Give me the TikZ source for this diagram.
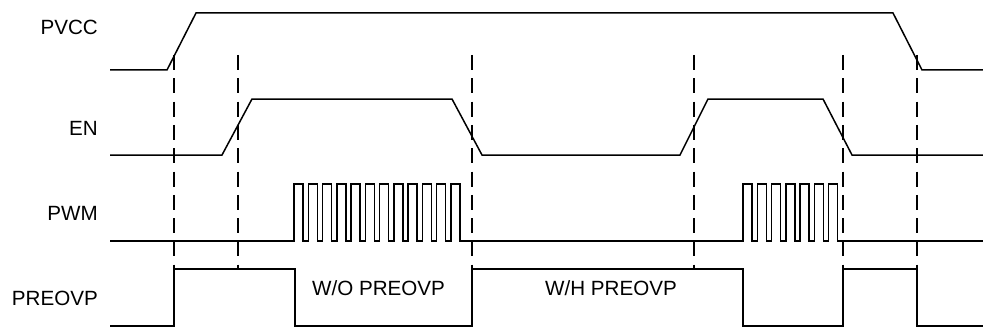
\documentclass[tikz,border=0pt]{standalone}
\usepackage{fontspec}
\setmainfont{Liberation Sans}
\begin{document}
\begin{tikzpicture}[x=1pt,y=-1pt,
  sig/.style={line width=1.5pt, line join=miter},
  guide/.style={line width=2.8pt, dash pattern=on 15pt off 8.3pt},
  lbl/.style={font=\fontsize{20.6}{24}\selectfont, inner sep=0pt}]
\useasboundingbox (0,0) rectangle (983,329);
% labels
\node[lbl, anchor=base east] (lpvcc) at (98,35) {PVCC};
\node[lbl, anchor=base east] (len) at (98,135) {EN};
\node[lbl, anchor=base east] (lpwm) at (98,220) {PWM};
\node[lbl, anchor=base east] (lpre) at (98,305) {PREOVP};
\node[lbl, anchor=base west] (lwo) at (312,295) {W/O PREOVP};
\node[lbl, anchor=base west] (lwh) at (545,295) {W/H PREOVP};
% PVCC
\draw[sig] (110,70) -- (167,70) -- (196,13) -- (893,13) -- (922,70) -- (983,70);
% EN
\draw[sig] (110,155) -- (222,155) -- (252,99) -- (452,99) -- (482,155) -- (680,155)
  -- (708,99) -- (823,99) -- (852,155) -- (983,155);
% PWM
\draw[sig] (110,241) -- (294,241)
  \foreach \i in {1,...,12} { -- ++(0,-57) -- ++(9.2,0) -- ++(0,57) -- ++(5.05,0) }
  -- (743,241)
  \foreach \i in {1,...,7} { -- ++(0,-57) -- ++(9.2,0) -- ++(0,57) -- ++(5.05,0) }
  -- (983,241);
% PREOVP
\draw[sig] (110,326) -- (174,326) -- (174,269) -- (295,269) -- (295,326) -- (472,326)
  -- (472,269) -- (743,269) -- (743,326) -- (843,326) -- (843,269) -- (917,269)
  -- (917,326) -- (983,326);
% guides
\foreach \x in {174,238,472,694,843,917} {
  \draw[guide] (\x,55) -- (\x,270);
}
\end{tikzpicture}
\end{document}
